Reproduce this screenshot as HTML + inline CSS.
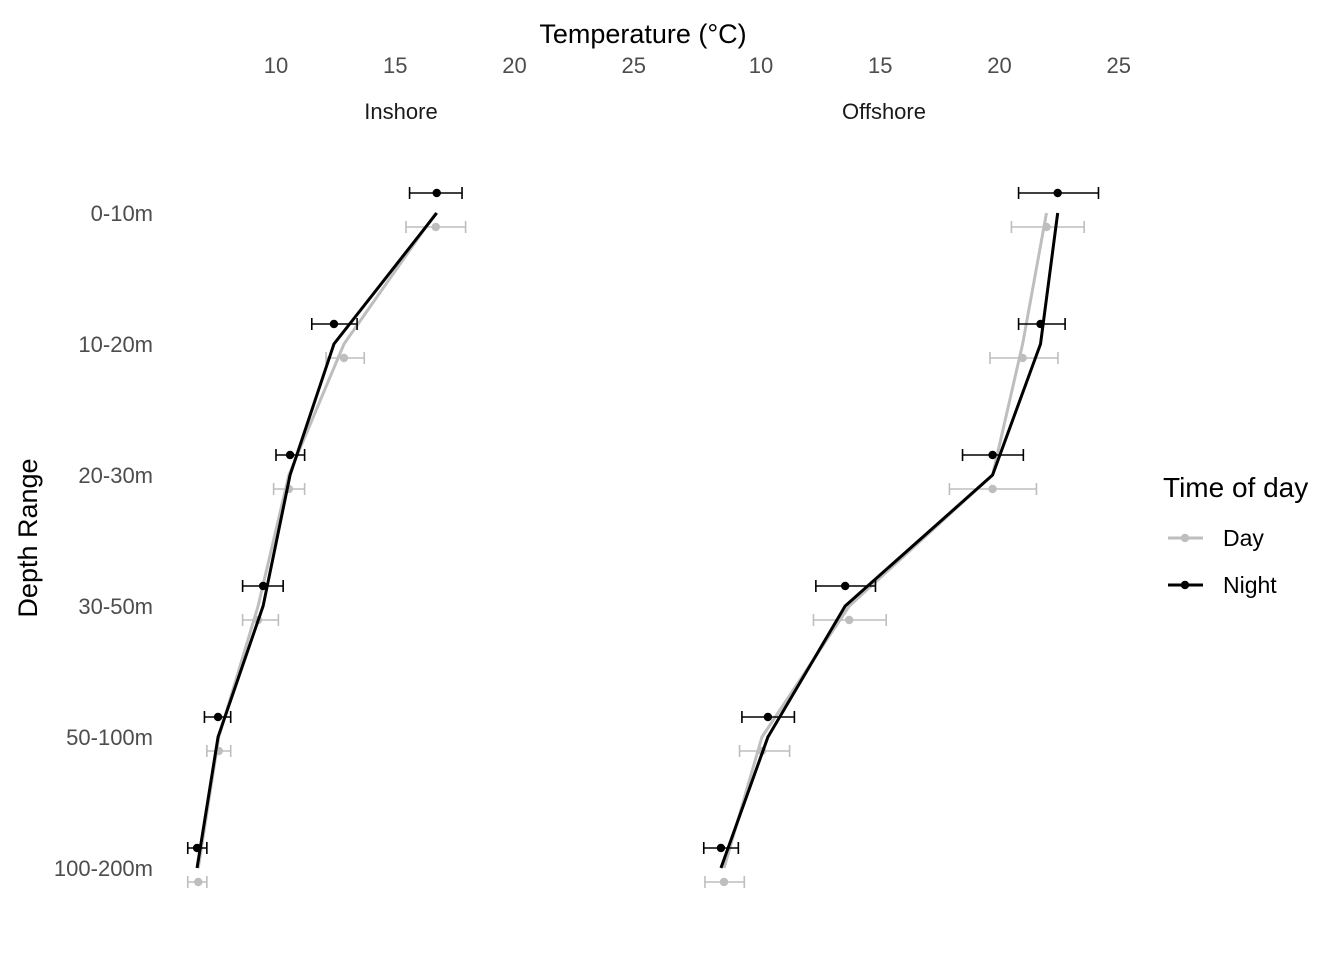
<!DOCTYPE html>
<html><head><meta charset="utf-8"><style>
body{margin:0;background:#fff;font-family:"Liberation Sans",sans-serif}
svg text{font-family:"Liberation Sans",sans-serif}
</style></head><body>
<svg id="chart" width="1344" height="960" xmlns="http://www.w3.org/2000/svg"></svg>
<script>
const depths=["0-10m","10-20m","20-30m","30-50m","50-100m","100-200m"];
const xTicks=[10,15,20,25];
const inNight=[16.74,12.43,10.59,9.46,7.57,6.69];
const inNightLo=[15.6,11.5,10.0,8.6,7.0,6.3];
const inNightHi=[17.8,13.4,11.2,10.3,8.1,7.1];
const inDay=[16.7,12.85,10.54,9.25,7.6,6.74];
const inDayLo=[15.45,12.1,9.9,8.6,7.1,6.3];
const inDayHi=[17.95,13.7,11.2,10.1,8.1,7.1];
const offNight=[22.44,21.72,19.71,13.53,10.29,8.32];
const offNightLo=[20.8,20.8,18.45,12.3,9.2,7.6];
const offNightHi=[24.15,22.75,21.0,14.8,11.4,9.05];
const offDay=[21.97,20.97,19.71,13.7,10.04,8.45];
const offDayLo=[20.5,19.6,17.9,12.2,9.1,7.65];
const offDayHi=[23.55,22.45,21.55,15.25,11.2,9.3];

const svg=document.getElementById('chart');
const NS='http://www.w3.org/2000/svg';
function mk(t,a,p){const e=document.createElementNS(NS,t);for(const k in a)e.setAttribute(k,a[k]);(p||svg).appendChild(e);return e;}
const panels=[{name:"Inshore",x0:276,night:inNight,nLo:inNightLo,nHi:inNightHi,day:inDay,dLo:inDayLo,dHi:inDayHi,cx:401},
{name:"Offshore",x0:761,night:offNight,nLo:offNightLo,nHi:offNightHi,day:offDay,dLo:offDayLo,dHi:offDayHi,cx:884}];
const ppu=23.85;
function yScale(i){return 213+i*131;}
const t=mk('text',{x:643,y:43,'font-size':27,'text-anchor':'middle',fill:'#000'});


t.textContent='Temperature (°C)';
const yt=mk('text',{x:0,y:0,'font-size':27,'text-anchor':'middle',fill:'#000',transform:'translate(37,538) rotate(-90)'});


yt.textContent='Depth Range';
depths.forEach((d,i)=>{const e=mk('text',{x:153,y:yScale(i)+8,'font-size':22,'text-anchor':'end',fill:'#4d4d4d'});


e.textContent=d;});
panels.forEach(p=>{
 const xs=v=>p.x0+(v-10)*ppu;
 const g=mk('g',{});
 
 
 xTicks.forEach(v=>{const e=mk('text',{x:xs(v),y:73,'font-size':22,'text-anchor':'middle',fill:'#4d4d4d'},g);
 
 
 e.textContent=v;});
 const s=mk('text',{x:p.cx,y:119,'font-size':22,'text-anchor':'middle',fill:'#1a1a1a'},g);
 
 
 s.textContent=p.name;
 [[p.day,p.dLo,p.dHi,'#bebebe',14,'day'],[p.night,p.nLo,p.nHi,'#000',-20,'night']].forEach(([v,lo,hi,c,off,nm])=>{
  const pts=v.map((x,i)=>xs(x)+','+yScale(i)).join(' ');
  const l=mk('polyline',{points:pts,fill:'none',stroke:c,'stroke-width':3},g);
  
  
  v.forEach((x,i)=>{const y=yScale(i)+off;
   const eb=mk('path',{d:`M${xs(lo[i])},${y}H${xs(hi[i])}M${xs(lo[i])},${y-6}V${y+6}M${xs(hi[i])},${y-6}V${y+6}`,stroke:c,'stroke-width':1.6,fill:'none'},g);
   
   
   const pt=mk('circle',{cx:xs(x),cy:y,r:4.2,fill:c},g);
   
   });
 });
});
const lg=mk('g',{});


const lt=mk('text',{x:1163,y:497,'font-size':28,fill:'#000'},lg);


lt.textContent='Time of day';
[['Day','#bebebe',538],['Night','#000',585]].forEach(([n,c,y])=>{
 mk('line',{x1:1168,x2:1203,y1:y,y2:y,stroke:c,'stroke-width':3},lg);
 mk('circle',{cx:1185,cy:y,r:4.2,fill:c},lg);
 const e=mk('text',{x:1223,y:y+8,'font-size':23,fill:'#000'},lg);
 
 
 e.textContent=n;});
</script>
</body></html>
